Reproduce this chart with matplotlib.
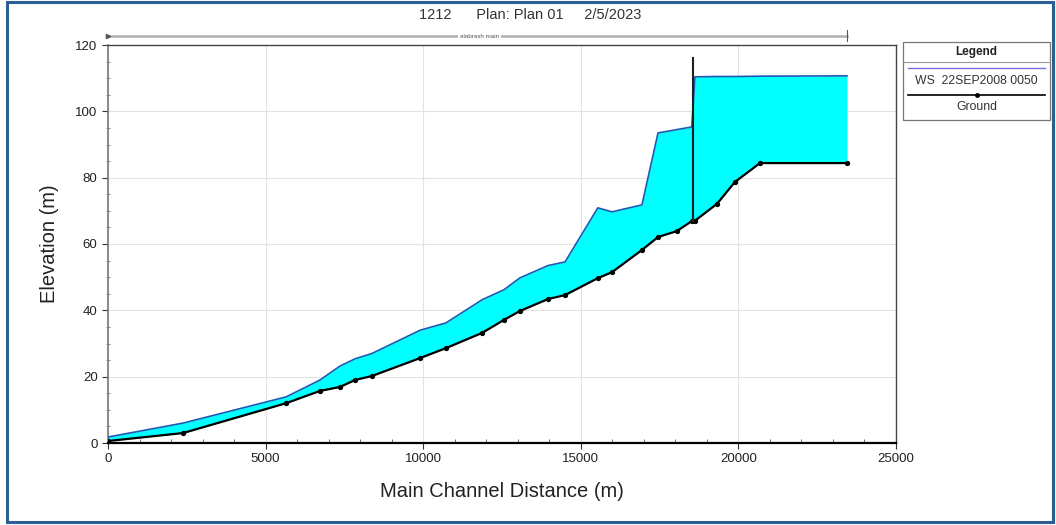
import matplotlib
matplotlib.use("Agg")
import matplotlib.pyplot as plt
from matplotlib.patches import Rectangle
from matplotlib.lines import Line2D
from matplotlib.ticker import MultipleLocator

plt.rcParams['font.family'] = ['Liberation Sans', 'DejaVu Sans']

# Main channel stations (m) of the cross sections
station = [0, 2380, 5650, 6725, 7360, 7840, 8375, 9900, 10720, 11870, 12560,
           13070, 13960, 14500, 15540, 15990, 16940, 17450, 18050, 18520,
           18620, 19320, 19890, 20685, 23445]
# Channel invert (ground) elevation (m)
ground = [0.6, 3.0, 12.0, 15.7, 16.9, 19.0, 20.2, 25.6, 28.6, 33.2, 37.1,
          39.8, 43.4, 44.6, 49.7, 51.5, 58.2, 62.1, 63.9, 66.9,
          67.0, 72.1, 78.7, 84.4, 84.4]
# Water surface elevation, profile 22SEP2008 0050 (m)
ws = [1.8, 6.0, 13.9, 19.0, 23.2, 25.4, 27.0, 34.0, 36.2, 43.2, 46.2,
      49.8, 53.5, 54.6, 70.9, 69.7, 71.8, 93.5, 94.5, 95.3,
      110.4, 110.5, 110.5, 110.6, 110.7]

# Inline structure (bridge) location and top elevation
structure_station = 18570
structure_top = 116.0

x_ticks = [0, 5000, 10000, 15000, 20000, 25000]
y_ticks = [0, 20, 40, 60, 80, 100, 120]

title_text = "1212      Plan: Plan 01     2/5/2023"
reach_name = "alabrash main"
ws_label = "WS  22SEP2008 0050"
ground_label = "Ground"

W, H = 1056, 525
fig = plt.figure(figsize=(W / 100, H / 100), dpi=100)
fig.patch.set_facecolor('white')

def fx(px):
    return px / W

def fy(py):
    return 1 - py / H

ax = fig.add_axes([fx(108), fy(443), fx(896) - fx(108), fy(45) - fy(443)])

ax.fill_between(station, ground, ws, color='#00FFFF', linewidth=0, zorder=2)
ax.plot(station, ws, color='#1E5AB4', linewidth=1.2, zorder=3)
ax.plot(station, ground, color='black', linewidth=1.6, marker='o',
        markersize=2.8, zorder=4)

g_at_struct = ground[station.index(18520)]
ax.plot([structure_station, structure_station], [g_at_struct, structure_top],
        color='#202020', linewidth=1.5, zorder=5)

ax.set_xlim(x_ticks[0], x_ticks[-1])
ax.set_ylim(y_ticks[0], y_ticks[-1])
ax.set_xticks(x_ticks)
ax.set_yticks(y_ticks)
ax.xaxis.set_minor_locator(MultipleLocator(1000))
ax.yaxis.set_minor_locator(MultipleLocator(5))
ax.grid(True, which='major', color='#E2E2E2', linewidth=0.8, zorder=0)
ax.set_axisbelow(True)

ax.tick_params(axis='both', which='major', direction='out', length=4,
               width=0.8, labelsize=9.5, colors='#333333', labelcolor='#222222')
ax.tick_params(axis='x', which='minor', direction='in', length=3,
               width=0.6, colors='#555555')
ax.tick_params(axis='y', which='minor', direction='inout', length=3,
               width=0.6, colors='#777777')

for side in ['top', 'right']:
    ax.spines[side].set_color('#444444')
    ax.spines[side].set_linewidth(1.0)
ax.spines['left'].set_color('#777777')
ax.spines['left'].set_linewidth(1.2)
ax.spines['bottom'].set_color('black')
ax.spines['bottom'].set_linewidth(1.6)

ax.set_xlabel("Main Channel Distance (m)", fontsize=14.5, color='#222222',
              labelpad=12)
ax.set_ylabel("Elevation (m)", fontsize=14.5, color='#222222', labelpad=12)

# Reach line above the plot
reach_y = 122.7
ax.plot([0, station[-1]], [reach_y, reach_y], color='#B0B0B0', linewidth=1.8,
        clip_on=False, zorder=1)
ax.plot([station[-1], station[-1]], [121.2, 124.6], color='#555555',
        linewidth=0.8, clip_on=False)
ax.plot([0], [reach_y], marker='>', color='#555555', markersize=3,
        clip_on=False)
ax.text(station[-1] * 0.503, reach_y, reach_name, fontsize=4.5,
        color='#555555', ha='center', va='center',
        bbox=dict(facecolor='white', edgecolor='none', pad=1.5), clip_on=False)

fig.text(fx(530), fy(15), title_text, fontsize=10.5, color='#333333',
         ha='center', va='center')

# Legend panel
lx0, lx1, ly0, ly1 = 903, 1050, 42, 120
fig.patches.append(Rectangle((fx(lx0), fy(ly1)), fx(lx1) - fx(lx0),
                             fy(ly0) - fy(ly1), transform=fig.transFigure,
                             facecolor='white', edgecolor='#777777',
                             linewidth=0.9))
fig.lines.append(Line2D([fx(lx0), fx(lx1)], [fy(62), fy(62)],
                        transform=fig.transFigure, color='#999999',
                        linewidth=0.8))
lcx = (lx0 + lx1) / 2
fig.text(fx(lcx), fy(52), "Legend", fontsize=8.5, fontweight='bold',
         ha='center', va='center', color='#222222')
fig.lines.append(Line2D([fx(lx0 + 5), fx(lx1 - 5)], [fy(68), fy(68)],
                        transform=fig.transFigure, color='#7A6FE0',
                        linewidth=1.0))
fig.text(fx(lcx), fy(81), ws_label, fontsize=8.8, ha='center', va='center',
         color='#333333')
fig.lines.append(Line2D([fx(lx0 + 5), fx(lx1 - 5)], [fy(95), fy(95)],
                        transform=fig.transFigure, color='black',
                        linewidth=1.2))
fig.lines.append(Line2D([fx(lcx)], [fy(95)], transform=fig.transFigure,
                        color='black', marker='o', markersize=2.5))
fig.text(fx(lcx), fy(107), ground_label, fontsize=8.8, ha='center',
         va='center', color='#333333')

# Window frame
fig.patches.append(Rectangle((fx(7), fy(522)), fx(1053) - fx(7),
                             fy(2) - fy(522), transform=fig.transFigure,
                             facecolor='none', edgecolor='#2B5F91',
                             linewidth=2.2))

fig.savefig("out.png", dpi=100)
